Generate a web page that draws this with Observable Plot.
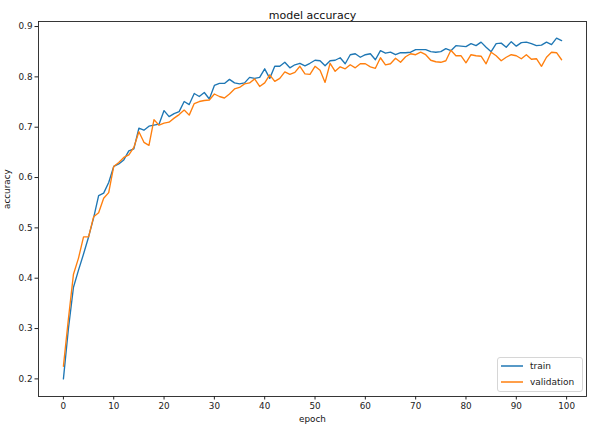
<!DOCTYPE html>
<html><head><meta charset="utf-8">
<script src="https://cdn.jsdelivr.net/npm/d3@7"></script>
<script src="https://cdn.jsdelivr.net/npm/@observablehq/plot@0.6"></script>
<style>
body{margin:0;background:#fff}
#c{position:relative;width:600px;height:428px;font-family:"DejaVu Sans",sans-serif}
#legend{position:absolute;left:497px;top:357px;width:84px;height:33px;border:1px solid #d6d6d6;border-radius:3px;background:rgba(255,255,255,0.85);font-size:9px;color:#222}
#legend .row{position:absolute;left:3px;height:12px;display:flex;align-items:center;white-space:nowrap}
#legend svg{margin-right:7px}
</style>
</head><body><div id="c"></div>
<script>
const seriesNames = ["train", "validation"];
const seriesColors = ["#1f77b4", "#ff7f0e"];
const train = [
0.200,0.300,0.382,0.416,0.448,0.482,0.520,0.564,0.569,0.590,
0.622,0.627,0.635,0.653,0.657,0.698,0.694,0.702,0.704,0.706,
0.733,0.721,0.727,0.731,0.751,0.745,0.767,0.761,0.769,0.756,
0.783,0.787,0.787,0.795,0.788,0.786,0.788,0.799,0.797,0.799,
0.816,0.797,0.821,0.821,0.829,0.818,0.824,0.827,0.822,0.827,
0.833,0.832,0.822,0.832,0.833,0.838,0.826,0.844,0.846,0.839,
0.844,0.846,0.834,0.852,0.847,0.849,0.844,0.848,0.848,0.849,
0.854,0.854,0.854,0.850,0.849,0.850,0.856,0.852,0.862,0.861,
0.860,0.866,0.862,0.869,0.859,0.850,0.866,0.867,0.859,0.870,
0.861,0.868,0.869,0.866,0.862,0.863,0.869,0.864,0.877,0.872];
const validation = [
0.225,0.320,0.408,0.440,0.482,0.482,0.522,0.530,0.559,0.570,
0.622,0.630,0.640,0.645,0.660,0.691,0.670,0.664,0.715,0.704,
0.708,0.710,0.718,0.725,0.734,0.724,0.747,0.751,0.753,0.754,
0.766,0.761,0.758,0.766,0.776,0.779,0.786,0.788,0.796,0.781,
0.788,0.804,0.791,0.797,0.810,0.805,0.809,0.821,0.806,0.805,
0.821,0.813,0.789,0.827,0.811,0.820,0.816,0.824,0.818,0.826,
0.826,0.820,0.817,0.838,0.824,0.826,0.837,0.829,0.840,0.846,
0.844,0.849,0.844,0.833,0.830,0.829,0.832,0.853,0.842,0.842,
0.828,0.844,0.842,0.841,0.826,0.849,0.842,0.832,0.839,0.844,
0.842,0.836,0.844,0.835,0.836,0.821,0.839,0.849,0.848,0.834];
const xTicks = [0,10,20,30,40,50,60,70,80,90,100];
const yTicks = [0.2,0.3,0.4,0.5,0.6,0.7,0.8,0.9];
const titleText = "model accuracy";
const xLabel = "epoch";
const yLabel = "accuracy";

const rows = [];
[train, validation].forEach((arr, s) => arr.forEach((v, i) => rows.push({epoch: i, accuracy: v, series: seriesNames[s]})));

const fs = 8.8;
const chart = Plot.plot({
  width: 600, height: 428,
  marginLeft: 38, marginRight: 14, marginTop: 21, marginBottom: 32,
  style: {fontFamily: "'DejaVu Sans', sans-serif", fontSize: fs + "px", color: "#222", background: "#fff"},
  x: {domain: [-4.95, 103.95], ticks: xTicks, label: null},
  y: {domain: [0.165, 0.910], ticks: yTicks, label: null, tickFormat: d3.format(".1f")},
  color: {domain: seriesNames, range: seriesColors},
  marks: [
    Plot.line(rows, {x: "epoch", y: "accuracy", stroke: "series", strokeWidth: 1.35, strokeLinejoin: "round"}),
    Plot.frame({stroke: "#222", strokeWidth: 0.9}),
    Plot.axisX({ticks: xTicks, tickSize: 3.5, tickPadding: 2.5, fontSize: fs, label: null, stroke: "#222"}),
    Plot.axisY({ticks: yTicks, tickSize: 3.5, tickPadding: 2.5, fontSize: fs, label: null, tickFormat: d3.format(".1f"), stroke: "#222"}),
    Plot.text([titleText], {frameAnchor: "top", dy: -10, fontSize: 11, fill: "#111"}),
    Plot.text([xLabel], {frameAnchor: "bottom", dy: 25, fontSize: fs, fill: "#111"}),
    Plot.text([yLabel], {frameAnchor: "left", dx: -31, rotate: -90, fontSize: fs, fill: "#111"})
  ]
});
const c = document.getElementById("c");
c.appendChild(chart);
const lg = document.createElement("div");
lg.id = "legend";
seriesNames.forEach((n, i) => {
  const r = document.createElement("div");
  r.className = "row";
  r.style.top = (2 + i * 15.5) + "px";
  const ns = "http://www.w3.org/2000/svg";
  const s = document.createElementNS(ns, "svg");
  s.setAttribute("width", "22"); s.setAttribute("height", "6");
  const ln = document.createElementNS(ns, "line");
  ln.setAttribute("x1", "0"); ln.setAttribute("x2", "22");
  ln.setAttribute("y1", "3"); ln.setAttribute("y2", "3");
  ln.setAttribute("stroke", seriesColors[i]); ln.setAttribute("stroke-width", "1.5");
  s.appendChild(ln);
  r.appendChild(s);
  r.appendChild(document.createTextNode(n));
  lg.appendChild(r);
});
c.appendChild(lg);
</script>
</body></html>
